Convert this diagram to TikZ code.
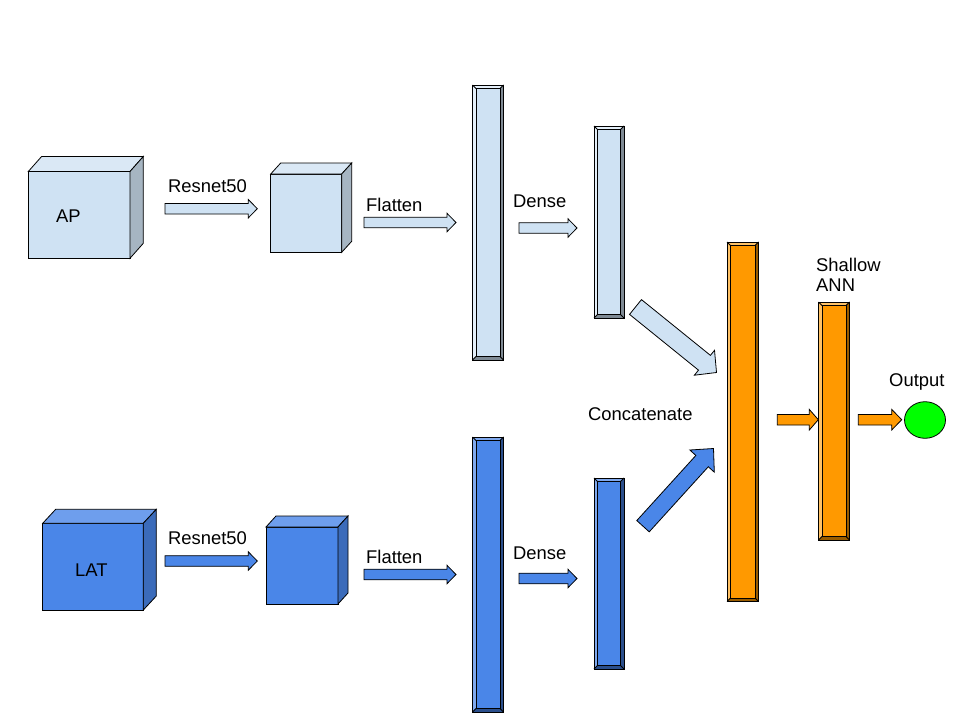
\documentclass[tikz,border=0pt]{standalone}
\usepackage{fontspec}
\setmainfont{Liberation Sans}
\usetikzlibrary{calc,shapes.geometric}
\definecolor{lbF}{HTML}{CFE2F3}
\definecolor{lbT}{HTML}{DAE8F5}
\definecolor{lbS}{HTML}{A6B5C2}
\definecolor{lbL}{HTML}{E4EFF9}
\definecolor{lbD}{HTML}{7F8A94}
\definecolor{dbF}{HTML}{4A86E8}
\definecolor{dbT}{HTML}{6E9EED}
\definecolor{dbS}{HTML}{3B6BBA}
\definecolor{dbL}{HTML}{80A9EE}
\definecolor{dbD}{HTML}{2B4F8C}
\definecolor{orF}{HTML}{FF9900}
\definecolor{orL}{HTML}{FFC266}
\definecolor{orD}{HTML}{995C00}
\definecolor{grn}{HTML}{00FF00}
\def\bi{3.5}
\newcommand\cubebox[8]{%
  \node[cubeface,fill=#8F,minimum width=#4pt,minimum height=#5pt,anchor=north west] (#1) at (#2,#3) {};
  \filldraw[edge,fill=#8T] (#1.north west) -- ($(#1.north west)+(#6,-#7)$) -- ($(#1.north east)+(#6,-#7)$) -- (#1.north east) -- cycle;
  \filldraw[edge,fill=#8S] (#1.north east) -- ($(#1.north east)+(#6,-#7)$) -- ($(#1.south east)+(#6,-#7)$) -- (#1.south east) -- cycle;
}
\newcommand\bevelbar[6]{%
  \node[cubeface,fill=#6F,minimum width=#4pt,minimum height=#5pt,anchor=north west] (#1) at (#2,#3) {};
  \fill[#6L] (#1.north west) -- (#1.north east) -- ($(#1.north east)+(-\bi,\bi)$) -- ($(#1.north west)+(\bi,\bi)$) -- ($(#1.south west)+(\bi,-\bi)$) -- (#1.south west) -- cycle;
  \fill[#6D] (#1.north east) -- (#1.south east) -- (#1.south west) -- ($(#1.south west)+(\bi,-\bi)$) -- ($(#1.south east)+(-\bi,-\bi)$) -- ($(#1.north east)+(-\bi,\bi)$) -- cycle;
  \draw[edge] (#1.north west) rectangle (#1.south east);
  \draw[edge] ($(#1.north west)+(\bi,\bi)$) rectangle ($(#1.south east)+(-\bi,-\bi)$);
  \draw[edge] (#1.north west) -- ($(#1.north west)+(\bi,\bi)$);
  \draw[edge] (#1.north east) -- ($(#1.north east)+(-\bi,\bi)$);
  \draw[edge] (#1.south west) -- ($(#1.south west)+(\bi,-\bi)$);
  \draw[edge] (#1.south east) -- ($(#1.south east)+(-\bi,-\bi)$);
}
\newcommand\blockarrow[7]{%
  \coordinate (#1h) at ($(#4)!#7pt!(#3)$);
  \filldraw[edge,#2] ($(#3)!#5pt!90:(#4)$) -- ($(#1h)!#5pt!90:(#4)$) -- ($(#1h)!#6pt!90:(#4)$) -- (#4)
    -- ($(#1h)!#6pt!-90:(#4)$) -- ($(#1h)!#5pt!-90:(#4)$) -- ($(#3)!#5pt!-90:(#4)$) -- cycle;
}
\begin{document}
\begin{tikzpicture}[x=1pt,y=-1pt,
  edge/.style={draw=black,line width=0.8pt,line join=miter},
  cubeface/.style={rectangle,draw=black,line width=0.8pt,inner sep=0pt,outer sep=0pt},
  lbl/.style={font=\fontsize{18.4}{21}\selectfont,inner sep=0pt,anchor=base west,text=black},
  lbarrow/.style={fill=lbF},
  dbarrow/.style={fill=dbF},
  orarrow/.style={fill=orF}]
\useasboundingbox (0,0) rectangle (960,720);
\fill[white] (0,0) rectangle (960,720);

% cubes
\cubebox{ap}{28.3}{171.5}{101.7}{86.8}{13.3}{15}{lb}
\cubebox{apr}{270.7}{174}{71}{78.3}{10}{11}{lb}
\cubebox{lat}{42.7}{523.3}{100.6}{86.7}{13}{14}{db}
\cubebox{latr}{266}{527}{72}{77}{10}{11}{db}
\node[lbl] (aptext) at (56,222) {AP};
\node[lbl] (lattext) at (75,576) {LAT};

% bars
\bevelbar{fl1}{472.5}{85}{31}{275}{lb}
\bevelbar{de1}{594}{126}{30}{192}{lb}
\bevelbar{fl2}{472.5}{437}{31}{275}{db}
\bevelbar{de2}{594}{478}{30}{191}{db}
\bevelbar{cat}{727}{242}{31.5}{359.5}{or}
\bevelbar{sha}{818.5}{302}{31}{238}{or}

% output
\node[ellipse,draw=black,line width=0.8pt,fill=grn,minimum width=41pt,minimum height=36.6pt,inner sep=0pt] (out) at (925,420) {};

% arrows
\coordinate (a1t) at (165,208.7); \coordinate (a1p) at (257.3,208.7);
\blockarrow{a1}{lbarrow}{a1t}{a1p}{5.3}{9.2}{9}
\coordinate (a2t) at (364,222.5); \coordinate (a2p) at (456,222.5);
\blockarrow{a2}{lbarrow}{a2t}{a2p}{5.3}{9.2}{9}
\coordinate (a3t) at (519,228); \coordinate (a3p) at (577,228);
\blockarrow{a3}{lbarrow}{a3t}{a3p}{5.3}{9.2}{9}
\coordinate (b1t) at (165,561); \coordinate (b1p) at (257.3,561);
\blockarrow{b1}{dbarrow}{b1t}{b1p}{5.3}{9.2}{9}
\coordinate (b2t) at (364,574.5); \coordinate (b2p) at (456,574.5);
\blockarrow{b2}{dbarrow}{b2t}{b2p}{5.3}{9.2}{9}
\coordinate (b3t) at (519,578.5); \coordinate (b3p) at (577,578.5);
\blockarrow{b3}{dbarrow}{b3t}{b3p}{5.3}{9.2}{9}
\coordinate (dt1) at (635.5,307); \coordinate (dp1) at (716.5,372.5);
\blockarrow{d1}{lbarrow}{dt1}{dp1}{9.5}{16}{15.5}
\coordinate (dt2) at (643,526.2); \coordinate (dp2) at (713.5,448.5);
\blockarrow{d2}{dbarrow}{dt2}{dp2}{8.4}{16.5}{17}
\coordinate (o1t) at (777.3,419.7); \coordinate (o1p) at (818.3,419.7);
\blockarrow{o1}{orarrow}{o1t}{o1p}{5.3}{10.3}{9}
\coordinate (o2t) at (858.3,419.7); \coordinate (o2p) at (901.7,419.7);
\blockarrow{o2}{orarrow}{o2t}{o2p}{5.3}{10.3}{10}

% labels
\node[lbl] (t1) at (168,192) {Resnet50};
\node[lbl] (t2) at (366,211) {Flatten};
\node[lbl] (t3) at (513,207) {Dense};
\node[lbl] (t4) at (168,544) {Resnet50};
\node[lbl] (t5) at (366,563) {Flatten};
\node[lbl] (t6) at (513,559) {Dense};
\node[lbl] (t7) at (588,420) {Concatenate};
\node[lbl] (t8) at (816,271) {Shallow};
\node[lbl] (t9) at (816,291) {ANN};
\node[lbl] (t10) at (889,386) {Output};
\end{tikzpicture}
\end{document}
